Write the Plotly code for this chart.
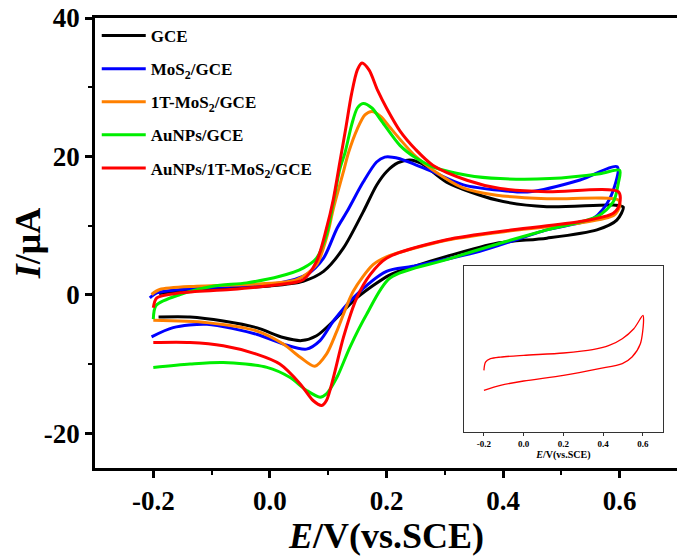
import plotly.graph_objects as go

# ---------------- data (E in V vs SCE, I in uA) ----------------
gce_E = [-0.19, -0.15, -0.07, 0.0, 0.057, 0.092, 0.126, 0.16, 0.183, 0.2, 0.22, 0.24, 0.26, 0.303, 0.389, 0.475, 0.589, 0.606,
         0.595, 0.561, 0.475, 0.389, 0.303, 0.25, 0.206, 0.149, 0.109, 0.08, 0.0545, 0.023, -0.023, -0.08, -0.137, -0.191]
gce_I = [0.2, 0.6, 1.0, 1.3, 1.98, 3.4, 6.75, 12.0, 15.85, 17.8, 19.1, 19.5, 19.0, 16.3, 13.7, 12.74, 12.98, 12.7,
         10.8, 9.4, 8.2, 7.47, 5.56, 4.2, 2.9, -0.42, -3.77, -5.9, -6.6, -6.16, -4.72, -3.77, -3.19, -3.19]

mos2_E = [-0.206, -0.194, -0.154, -0.068, 0.017, 0.063, 0.092, 0.115, 0.132, 0.16, 0.183, 0.197, 0.21, 0.223, 0.25, 0.28, 0.332, 0.395, 0.446, 0.532, 0.596,
          0.583, 0.555, 0.475, 0.36, 0.245, 0.2, 0.143, 0.109, 0.086, 0.0625, 0.023, -0.023, -0.108, -0.166, -0.203]
mos2_I = [-0.42, 0.3, 0.78, 1.26, 1.74, 2.93, 5.32, 9.6, 12.0, 16.3, 19.2, 19.9, 19.9, 19.67, 18.8, 17.76, 15.9, 15.1, 14.9, 16.6, 18.5,
          13.9, 11.06, 9.4, 6.3, 4.13, 3.4, -0.42, -3.77, -6.6, -7.83, -7.1, -5.68, -4.25, -4.73, -6.06]

t_mos2_E = [-0.203, -0.189, -0.126, -0.04, 0.046, 0.08, 0.097, 0.109, 0.126, 0.135, 0.15, 0.163, 0.175, 0.19, 0.205, 0.223, 0.25, 0.28, 0.33, 0.389, 0.475, 0.598,
            0.6, 0.59, 0.532, 0.417, 0.303, 0.2, 0.177, 0.143, 0.115, 0.097, 0.077, 0.052, 0.023, -0.023, -0.108, -0.2]
t_mos2_I = [0.06, 0.78, 1.26, 1.5, 2.2, 4.37, 8.2, 12.5, 17.76, 20.6, 24.0, 26.0, 26.5, 25.8, 24.3, 22.5, 20.0, 18.0, 15.5, 14.4, 13.9, 13.7,
            12.8, 11.5, 10.4, 9.3, 7.9, 5.5, 4.37, 0.54, -5.2, -8.55, -10.3, -9.0, -7.1, -5.2, -4.0, -3.67]

au_E = [-0.2, -0.195, -0.154, -0.098, -0.04, 0.017, 0.057, 0.08, 0.097, 0.109, 0.12, 0.129, 0.14, 0.15, 0.16, 0.175, 0.19, 0.223, 0.25, 0.28, 0.338, 0.395, 0.48, 0.566, 0.6,
        0.598, 0.589, 0.561, 0.475, 0.395, 0.303, 0.206, 0.166, 0.137, 0.115, 0.097, 0.086, 0.063, 0.034, -0.005, -0.08, -0.137, -0.2]
au_I = [-3.5, -1.5, 0.06, 1.26, 1.74, 2.69, 3.88, 5.32, 8.67, 13.45, 18.2, 20.6, 24.5, 27.0, 27.66, 27.0, 25.3, 21.6, 19.8, 18.48, 17.3, 16.8, 16.8, 17.5, 18.0,
        16.3, 13.45, 11.3, 9.4, 7.47, 5.1, 2.45, -2.8, -7.6, -11.9, -14.3, -14.77, -13.8, -11.9, -10.47, -9.75, -9.98, -10.47]

au_t_E = [-0.2, -0.194, -0.154, -0.068, 0.017, 0.057, 0.08, 0.097, 0.109, 0.12, 0.13, 0.14, 0.15, 0.158, 0.17, 0.185, 0.2, 0.223, 0.25, 0.28, 0.338, 0.395, 0.475, 0.598,
          0.6, 0.589, 0.532, 0.417, 0.303, 0.2, 0.172, 0.149, 0.126, 0.109, 0.097, 0.089, 0.074, 0.052, 0.017, -0.023, -0.08, -0.137, -0.2]
au_t_I = [-1.86, -0.42, 0.3, 0.78, 1.5, 2.2, 4.84, 9.6, 13.9, 19.2, 24.0, 29.0, 32.5, 33.5, 32.5, 29.5, 27.0, 23.7, 21.0, 18.7, 16.57, 15.36, 14.9, 14.9,
          13.2, 11.8, 10.6, 9.4, 7.96, 5.3, 2.93, -0.42, -6.16, -11.9, -15.25, -15.96, -15.25, -12.85, -9.98, -8.55, -7.35, -6.88, -6.88]

# inset (relative current, arbitrary units)
inset_E = [-0.2, -0.192, -0.167, -0.117, 0.0, 0.2, 0.347, 0.43, 0.496, 0.554, 0.6,
           0.603, 0.587, 0.545, 0.496, 0.38, 0.2, 0.0, -0.117, -0.2]
inset_I = [-0.256, -0.155, -0.115, -0.095, -0.074, -0.046, -0.006, 0.046, 0.127, 0.247, 0.408,
           0.348, 0.066, -0.095, -0.175, -0.235, -0.316, -0.384, -0.437, -0.497]

series = [
    ("GCE", gce_E, gce_I, "#000000"),
    ("MoS<sub>2</sub>/GCE", mos2_E, mos2_I, "#0000FF"),
    ("1T-MoS<sub>2</sub>/GCE", t_mos2_E, t_mos2_I, "#FF8000"),
    ("AuNPs/GCE", au_E, au_I, "#00EE00"),
    ("AuNPs/1T-MoS<sub>2</sub>/GCE", au_t_E, au_t_I, "#FF0000"),
]

x_ticks = [-0.2, 0.0, 0.2, 0.4, 0.6]
y_ticks = [-20, 0, 20, 40]

FONT = "Liberation Serif"

fig = go.Figure()
for i, (name, ex, iy, col) in enumerate(series):
    fig.add_trace(go.Scatter(x=ex, y=iy, mode="lines", name=name, legendgroup=f"g{i}",
                             line=dict(color=col, width=3, shape="spline", smoothing=0.8)))

fig.add_trace(go.Scatter(x=inset_E, y=inset_I, mode="lines", showlegend=False,
                         line=dict(color="#FF0000", width=1.3, shape="spline", smoothing=0.8),
                         xaxis="x2", yaxis="y2"))

fig.update_layout(
    width=685, height=560,
    margin=dict(l=87, r=15, t=10, b=100),
    paper_bgcolor="white", plot_bgcolor="white",
    font=dict(family=FONT, color="black"),
    showlegend=True,
    legend=dict(x=0.003, y=1.0, xanchor="left", yanchor="top", bgcolor="rgba(0,0,0,0)",
                font=dict(family=FONT, size=17, color="black", weight="bold"),
                tracegroupgap=8, itemwidth=44),
    xaxis=dict(range=[-0.3, 0.7], tickvals=x_ticks, ticktext=[f"{v:.1f}" for v in x_ticks],
               automargin=False, ticklabeloverflow="allow",
               showgrid=False, zeroline=False, showline=True, mirror=True,
               linecolor="black", linewidth=2.5, ticks="outside", ticklen=7, tickwidth=2.5,
               tickcolor="black",
               minor=dict(tickvals=[-0.1, 0.1, 0.3, 0.5], ticks="outside", ticklen=4, tickwidth=2, tickcolor="black"),
               tickfont=dict(family=FONT, size=27, weight="bold"),
               title=dict(text="<i>E</i>/V(vs.SCE)", font=dict(family=FONT, size=36, weight="bold"), standoff=2)),
    yaxis=dict(range=[-25, 40], tickvals=y_ticks, ticktext=[str(v) for v in y_ticks],
               automargin=False, ticklabeloverflow="allow",
               showgrid=False, zeroline=False, showline=True, mirror=True,
               linecolor="black", linewidth=2.5, ticks="outside", ticklen=7, tickwidth=2.5,
               tickcolor="black",
               minor=dict(tickvals=[-10, 10, 30], ticks="outside", ticklen=4, tickwidth=2, tickcolor="black"),
               tickfont=dict(family=FONT, size=27, weight="bold"),
               title=dict(text="<i>I</i>/μA", font=dict(family=FONT, size=36, weight="bold"), standoff=8)),
    xaxis2=dict(domain=[0.633, 0.974], anchor="y2", range=[-0.3, 0.7], tickvals=x_ticks,
                ticktext=[f"{v:.1f}" for v in x_ticks], automargin=False,
                showgrid=False, zeroline=False, showline=True, mirror=True,
                linecolor="#333333", linewidth=1, ticks="outside", ticklen=3, tickwidth=1, tickcolor="#333333",
                tickfont=dict(family=FONT, size=9, weight="bold"),
                title=dict(text="<i>E</i>/V(vs.SCE)", font=dict(family=FONT, size=10, weight="bold"), standoff=2)),
    yaxis2=dict(domain=[0.08, 0.448], anchor="x2", range=[-1, 1], showticklabels=False, automargin=False,
                showgrid=False, zeroline=False, showline=True, mirror=True, ticks="",
                linecolor="#333333", linewidth=1),
)

fig.write_html("out.html")
